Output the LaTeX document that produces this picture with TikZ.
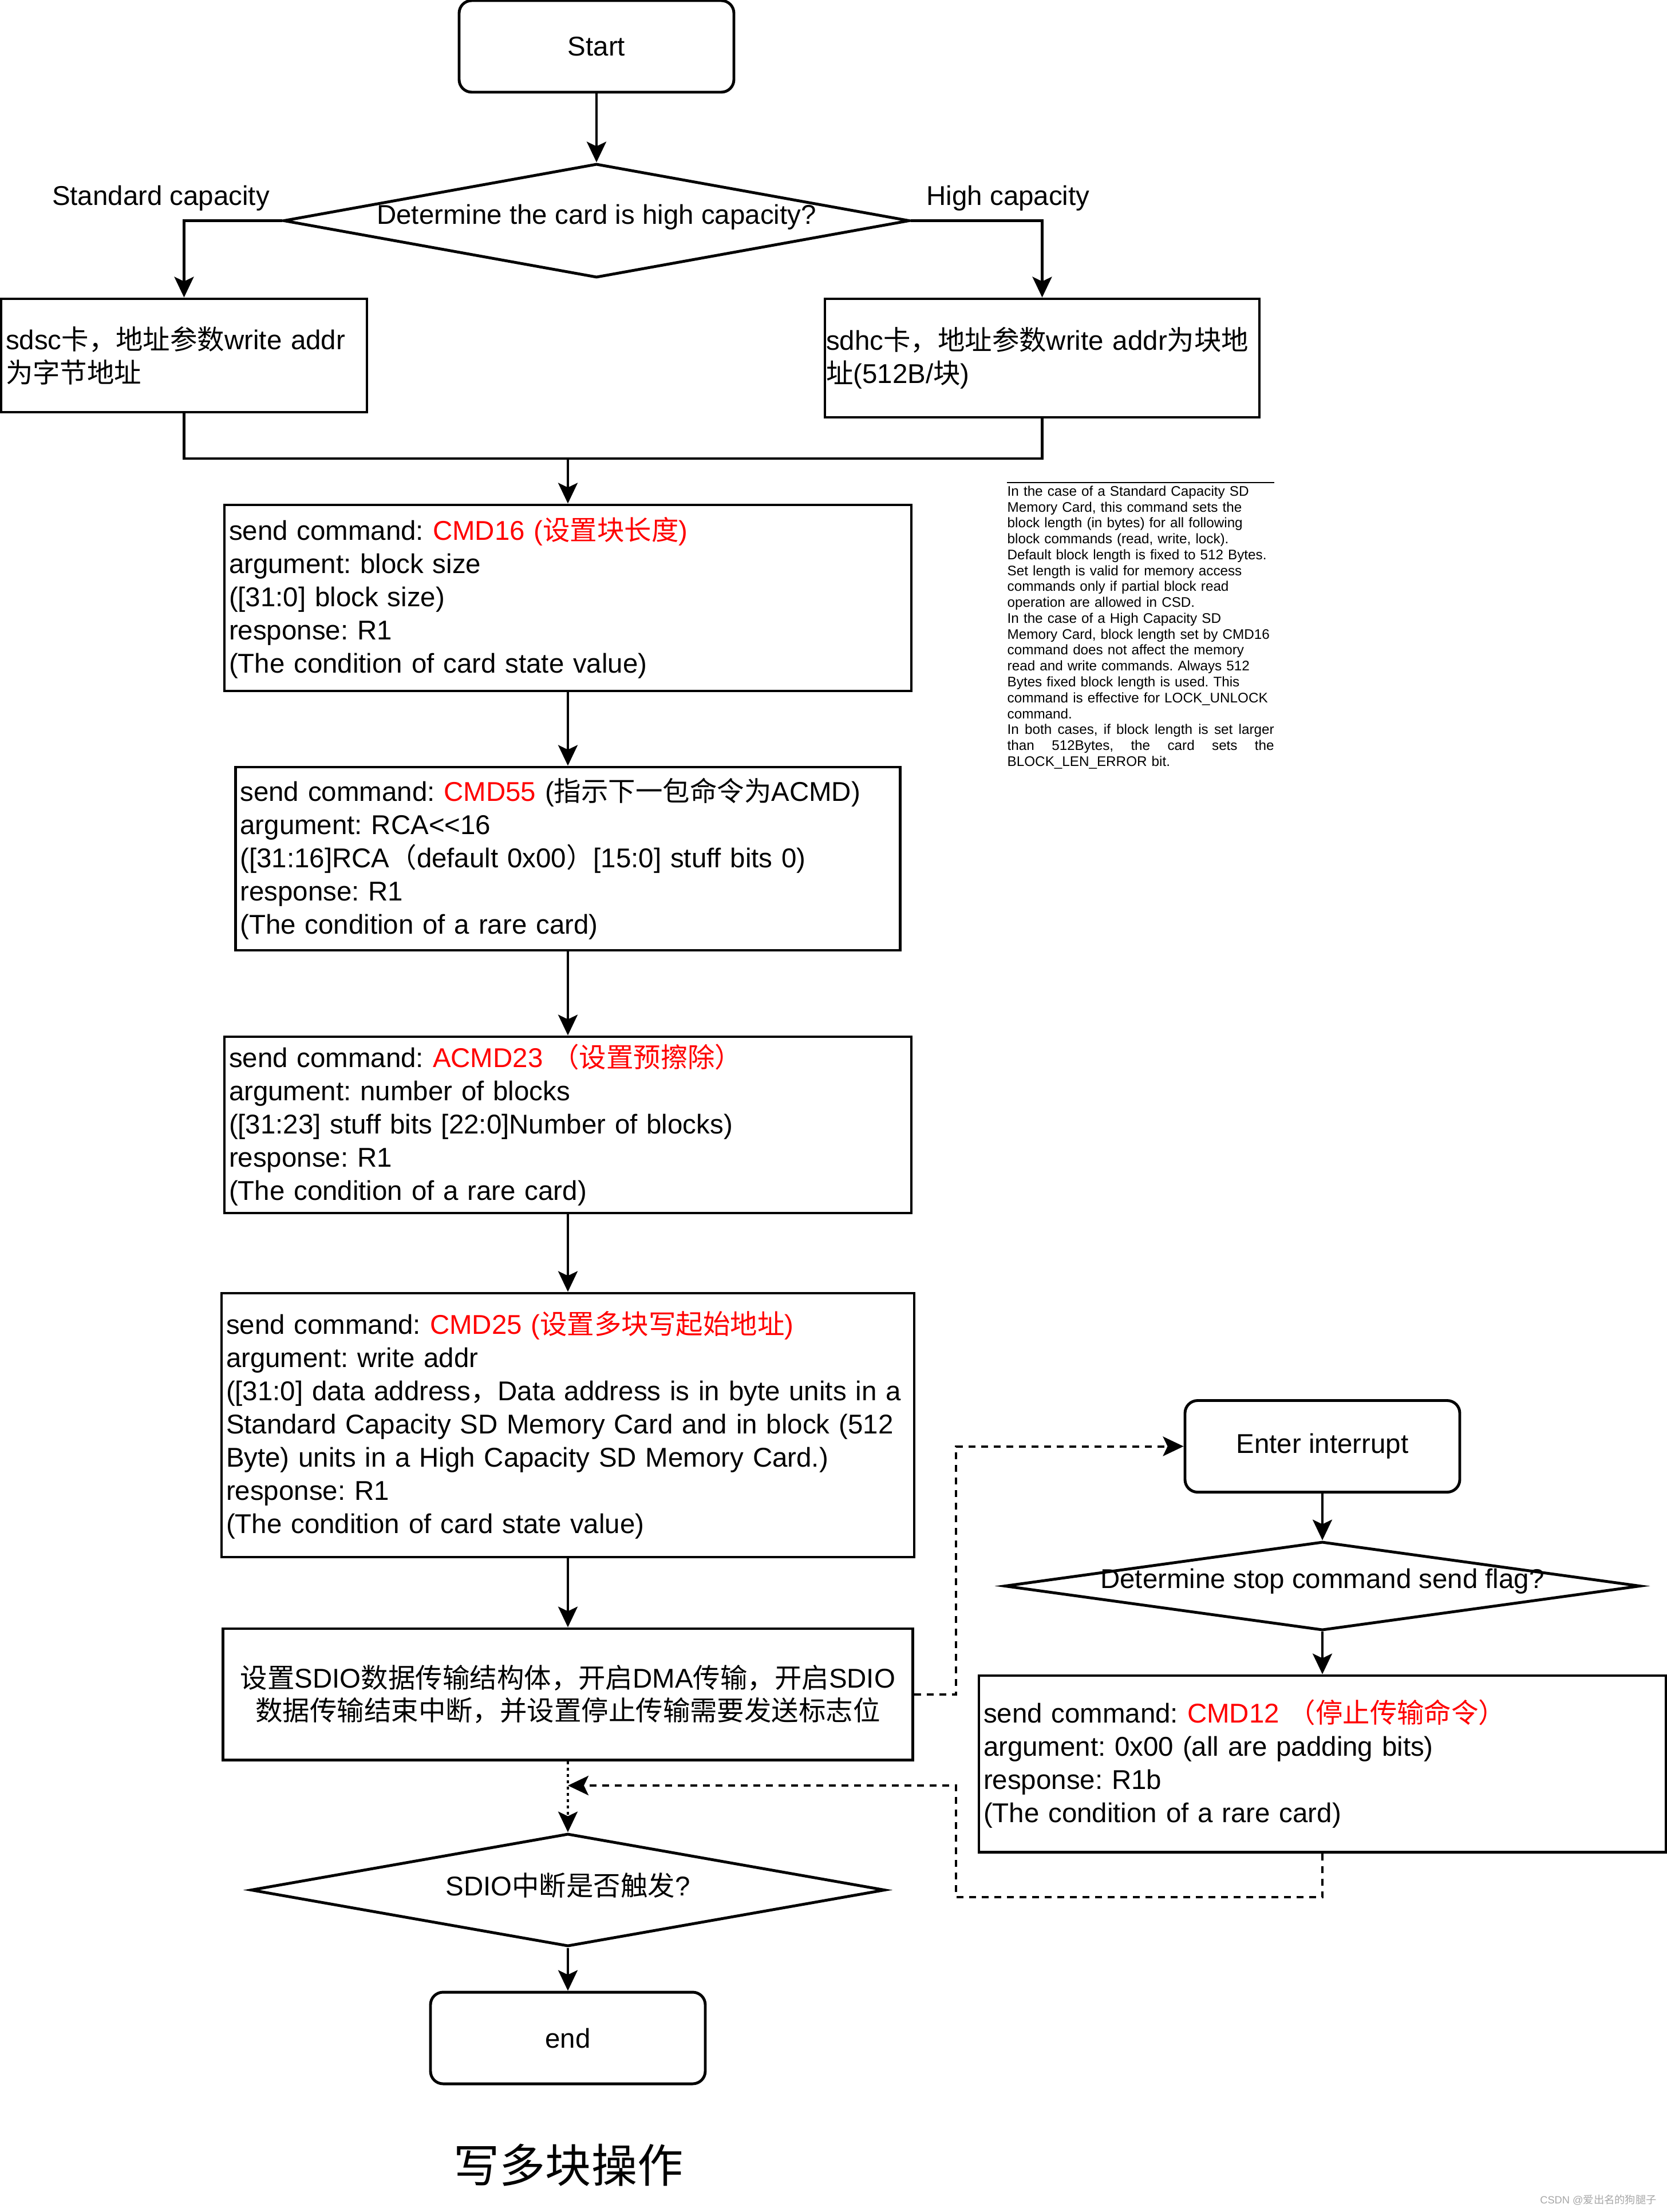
\documentclass[tikz,border=0pt]{standalone}
\usepackage{fontspec}
\usepackage{xcolor}
\setmainfont{Liberation Sans}
\newfontfamily\cjk{Noto Sans CJK SC}
\usetikzlibrary{shapes.geometric,arrows.meta}

\newcommand{\zh}[1]{{\cjk #1}}
\newcommand{\cmd}[1]{\textcolor{red}{#1}}

\tikzset{
    termbox/.style={draw, line width=1.4pt, rounded corners=0.22cm, minimum width=4.8cm, minimum height=1.6cm},
    cmdbox/.style={draw, line width=1.4pt, inner xsep=0.08cm, inner ysep=0pt, align=left},
    decision/.style={draw, line width=1.4pt, diamond, inner sep=0pt},
    arr/.style={line width=1.15pt, -{Stealth[length=0.36cm, width=0.34cm, inset=0.08cm]}},
    dashline/.style={line width=1.15pt, dash pattern=on 0.12cm off 0.1cm},
    dotline/.style={line width=1.15pt, dash pattern=on 0.05cm off 0.06cm},
}

\begin{document}
\frenchspacing
\begin{tikzpicture}[font=\fontsize{13.5}{16.5}\selectfont]
    \useasboundingbox (0,0) rectangle (29.12,-38.64);

    % capacity check
    \node[termbox] (start) at (10.42,-0.81) {Start};
    \node[decision, minimum width=10.94cm, minimum height=1.99cm,
        label={[name=q1, yshift=0.06cm]center:Determine the card is high capacity?}] (d1) at (10.42,-3.855) {};
    \node (lstd) at (2.81,-3.46) {Standard capacity};
    \node (lhigh) at (17.61,-3.46) {High capacity};
    \node[cmdbox, minimum width=6.39cm, minimum height=1.98cm, text width=6.23cm] (sdsc) at (3.215,-6.21)
        {sdsc\zh{卡，地址参数}write addr\\\zh{为字节地址}};
    \node[cmdbox, inner xsep=0.02cm, minimum width=7.59cm, minimum height=2.07cm, text width=7.55cm] (sdhc) at (18.205,-6.255)
        {sdhc\zh{卡，地址参数}write addr\zh{为块地}\\\zh{址}(512B/\zh{块})};
    \coordinate (merge) at (9.92,-8.01);

    % command sequence
    \node[cmdbox, minimum width=12cm, minimum height=3.25cm, text width=11.84cm] (cmd16) at (9.92,-10.445)
        {send command: \cmd{CMD16 (\zh{设置块长度})}\\
         argument: block size\\
         ([31:0] block size)\\
         response: R1\\
         (The condition of card state value)};
    \node[cmdbox, minimum width=11.61cm, minimum height=3.2cm, text width=11.45cm] (cmd55) at (9.92,-15.0)
        {send command: \cmd{CMD55} (\zh{指示下一包命令为}ACMD)\\
         argument: RCA<{}<16\\
         ([31:16]RCA\zh{（}default 0x00\zh{）}[15:0] stuff bits 0)\\
         response: R1\\
         (The condition of a rare card)};
    \node[cmdbox, minimum width=12cm, minimum height=3.08cm, text width=11.84cm] (cmd23) at (9.92,-19.65)
        {send command: \cmd{ACMD23 \zh{（设置预擦除）}}\\
         argument: number of blocks\\
         ([31:23] stuff bits [22:0]Number of blocks)\\
         response: R1\\
         (The condition of a rare card)};
    \node[cmdbox, minimum width=12.1cm, minimum height=4.61cm, text width=11.94cm] (cmd25) at (9.92,-24.895)
        {send command: \cmd{CMD25 (\zh{设置多块写起始地址})}\\
         argument: write addr\\
         ([31:0] data address\zh{，}Data address is in byte units in a\\
         Standard Capacity SD Memory Card and in block (512\\
         Byte) units in a High Capacity SD Memory Card.)\\
         response: R1\\
         (The condition of card state value)};
    \node[cmdbox, align=center, minimum width=12.05cm, minimum height=2.29cm, text width=11.89cm] (sdio) at (9.92,-29.595)
        {\zh{设置}SDIO\zh{数据传输结构体，开启}DMA\zh{传输，开启}SDIO\\\zh{数据传输结束中断，并设置停止传输需要发送标志位}};
    \node[decision, minimum width=11.08cm, minimum height=1.97cm,
        label={[name=q2, yshift=0.08cm]center:SDIO\zh{中断是否触发}?}] (d2) at (9.92,-33.015) {};
    \node[termbox] (finish) at (9.92,-35.6) {end};
    \node[font=\fontsize{22.8}{27}\selectfont\cjk] (title) at (9.93,-37.82) {写多块操作};

    % interrupt handler
    \node[termbox] (intr) at (23.1,-25.265) {Enter interrupt};
    \node[decision, minimum width=11.11cm, minimum height=1.55cm,
        label={[name=q3, yshift=0.08cm]center:Determine stop command send flag?}] (d3) at (23.1,-27.705) {};
    \node[cmdbox, minimum width=12cm, minimum height=3.08cm, text width=11.84cm] (cmd12) at (23.1,-30.81)
        {send command: \cmd{CMD12 \zh{（停止传输命令）}}\\
         argument: 0x00 (all are padding bits)\\
         response: R1b\\
         (The condition of a rare card)};

    % CMD16 note
    \node[inner xsep=0pt, inner ysep=0.05cm, anchor=north west, text width=4.66cm, align=left,
        font=\fontsize{6.9}{7.9}\selectfont] (note) at (17.59,-8.43)
        {In the case of a Standard Capacity SD\\
         Memory Card, this command sets the\\
         block length (in bytes) for all following\\
         block commands (read, write, lock).\\
         Default block length is fixed to 512 Bytes.\\
         Set length is valid for memory access\\
         commands only if partial block read\\
         operation are allowed in CSD.\\
         In the case of a High Capacity SD\\
         Memory Card, block length set by CMD16\\
         command does not affect the memory\\
         read and write commands. Always 512\\
         Bytes fixed block length is used. This\\
         command is effective for LOCK\_UNLOCK\\
         command.\\
         \makebox[4.66cm][s]{In\hfill both\hfill cases,\hfill if\hfill block\hfill length\hfill is\hfill set\hfill larger}\\
         \makebox[4.66cm][s]{than\hfill 512Bytes,\hfill the\hfill card\hfill sets\hfill the}\\
         BLOCK\_LEN\_ERROR bit.};
    \draw[line width=0.6pt] (note.north west) -- (note.north east);

    \node[text=gray!70, font=\fontsize{5.2}{6}\selectfont] (mark) at (27.92,-38.43) {CSDN @\zh{爱出名的狗腿子}};

    % connectors
    \draw[arr] (start) -- (d1);
    \draw[arr] (d1.west) -| (sdsc.north);
    \draw[arr] (d1.east) -| (sdhc.north);
    \draw[line width=1.15pt] (sdsc.south) |- (merge);
    \draw[line width=1.15pt] (sdhc.south) |- (merge);
    \draw[arr] (merge) -- (cmd16);
    \draw[arr] (cmd16) -- (cmd55);
    \draw[arr] (cmd55) -- (cmd23);
    \draw[arr] (cmd23) -- (cmd25);
    \draw[arr] (cmd25) -- (sdio);
    \draw[arr, dotline] (sdio) -- (d2);
    \draw[arr] (d2) -- (finish);
    \draw[arr] (intr) -- (d3);
    \draw[arr] (d3) -- (cmd12);

    \coordinate (bendA) at (16.7,-29.595);
    \coordinate (bendB) at (16.7,-33.14);
    \coordinate (join) at (9.92,-31.19);
    \draw[arr, dashline] (sdio.east) -- (bendA) |- (intr.west);
    \draw[arr, dashline] (cmd12.south) |- (bendB) |- (join);
\end{tikzpicture}
\end{document}
